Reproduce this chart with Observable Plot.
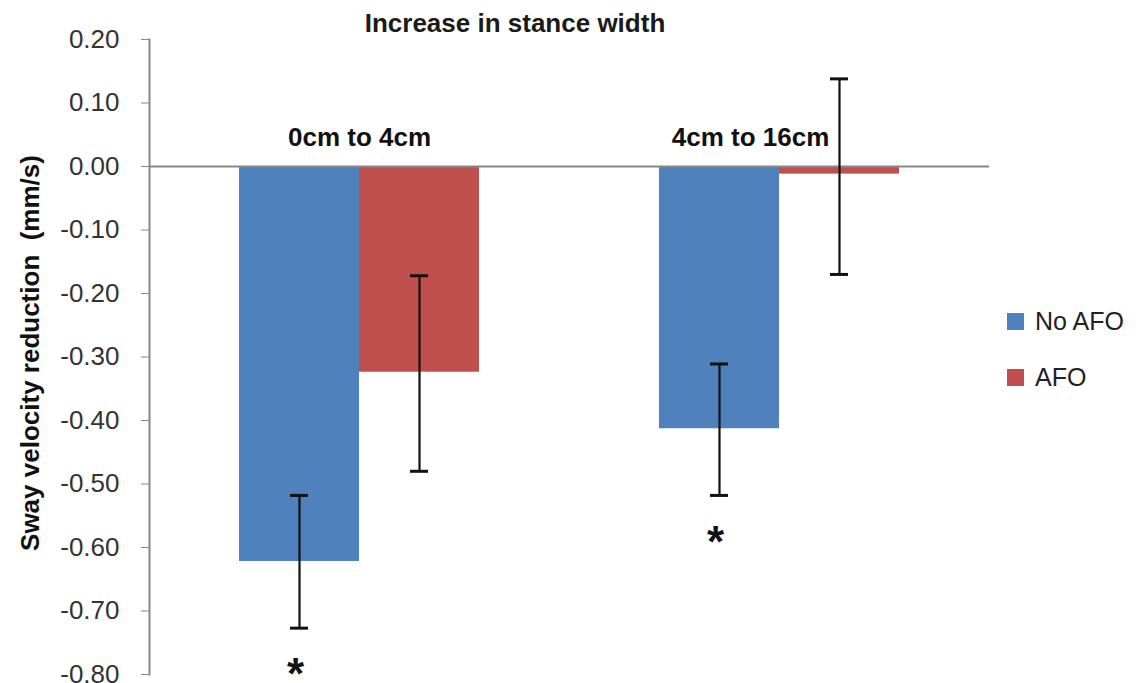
<!DOCTYPE html>
<html>
<head>
<meta charset="utf-8">
<script src="https://cdn.jsdelivr.net/npm/d3@7"></script>
<script src="https://cdn.jsdelivr.net/npm/@observablehq/plot@0.6"></script>
<style>
  html, body { margin: 0; padding: 0; background: #fff; }
  #wrap { position: relative; width: 1139px; height: 683px; font-family: "Liberation Sans", Arial, sans-serif; color: #222; }
  #wrap svg { position: absolute; left: 0; top: 0; }
  .title { position: absolute; left: 515px; top: 23px; transform: translate(-50%, -50%); font-size: 26px; font-weight: bold; white-space: nowrap; color: #1a1a1a; }
  .ylab { position: absolute; left: 30px; top: 353px; transform: translate(-50%, -50%) rotate(-90deg); font-size: 26px; font-weight: bold; white-space: pre; color: #111; }
  .leg { position: absolute; left: 1007px; display: flex; align-items: center; font-size: 25px; color: #222; white-space: nowrap; }
  .leg span.sw { display: inline-block; width: 17px; height: 17px; margin-right: 11px; }
</style>
</head>
<body>
<div id="wrap"></div>
<script>
// ---- data ----
const categories = ["0cm to 4cm", "4cm to 16cm"];
const series = ["No AFO", "AFO"];
const noAfoValues = [-0.622, -0.413];
const afoValues = [-0.324, -0.012];
const noAfoLow = [-0.727, -0.518];
const noAfoHigh = [-0.518, -0.311];
const afoLow = [-0.48, -0.17];
const afoHigh = [-0.172, 0.138];
const noAfoSignificance = ["*", "*"];
const afoSignificance = ["", ""];
const yTicks = [0.2, 0.1, 0, -0.1, -0.2, -0.3, -0.4, -0.5, -0.6, -0.7, -0.8];
const colors = ["#4F81BD", "#C0504D"];
const titleText = "Increase in stance width";
const yLabelText = "Sway velocity reduction\u00a0\u00a0(mm/s)";

const rows = [];
categories.forEach((c, i) => {
  rows.push({cat: c, series: series[0], value: noAfoValues[i], low: noAfoLow[i], high: noAfoHigh[i], sig: noAfoSignificance[i]});
  rows.push({cat: c, series: series[1], value: afoValues[i], low: afoLow[i], high: afoHigh[i], sig: afoSignificance[i]});
});

const chart = Plot.plot({
  width: 1139,
  height: 683,
  marginLeft: 148,
  marginRight: 150,
  marginTop: 39,
  marginBottom: 9,
  style: {fontFamily: "'Liberation Sans', Arial, sans-serif", fontSize: "26px", background: "transparent", color: "#333"},
  fx: {domain: categories, padding: 0, axis: null},
  x: {domain: series, paddingInner: 0, paddingOuter: 0.74, axis: null},
  y: {domain: [-0.8, 0.2]},
  color: {domain: series, range: colors},
  marks: [
    Plot.barY(rows, {fx: "cat", x: "series", y: "value", fill: "series"}),
    Plot.ruleY([0], {stroke: "#888", strokeWidth: 2}),
    Plot.frame({anchor: "left", facetAnchor: "left", stroke: "#888", strokeWidth: 2}),
    Plot.axisY({ticks: yTicks, tickFormat: d => d.toFixed(2), tickSize: 8, tickPadding: 22,
      stroke: "#888", fill: "#333", label: null, fontSize: 26}),
    Plot.ruleX(rows, {fx: "cat", x: "series", y1: "low", y2: "high", stroke: "#111", strokeWidth: 2.2}),
    Plot.tickY(rows, {fx: "cat", x: "series", y: "low", stroke: "#111", strokeWidth: 3, insetLeft: 51, insetRight: 51}),
    Plot.tickY(rows, {fx: "cat", x: "series", y: "high", stroke: "#111", strokeWidth: 3, insetLeft: 51, insetRight: 51}),
    Plot.text(rows, {fx: "cat", x: "series", y: "low", text: "sig", fontSize: 44, fontWeight: "bold", fill: "#111", dy: 47, dx: -4}),
    Plot.text([categories[0]], {fx: d => d, text: d => d, frameAnchor: "top", dy: 88, fontSize: 26, fontWeight: "bold", fill: "#111"}),
    Plot.text([categories[1]], {fx: d => d, text: d => d, frameAnchor: "top", dy: 88, dx: -29, fontSize: 26, fontWeight: "bold", fill: "#111"})
  ]
});

const wrap = document.getElementById("wrap");
wrap.appendChild(chart);

const title = document.createElement("div");
title.className = "title";
title.textContent = titleText;
wrap.appendChild(title);

const ylab = document.createElement("div");
ylab.className = "ylab";
ylab.textContent = yLabelText;
wrap.appendChild(ylab);

const legTops = [321, 377];
series.forEach((s, i) => {
  const d = document.createElement("div");
  d.className = "leg";
  d.style.top = (legTops[i] - 16) + "px";
  d.style.height = "32px";
  const sw = document.createElement("span");
  sw.className = "sw";
  sw.style.background = colors[i];
  d.appendChild(sw);
  const t = document.createElement("span");
  t.textContent = s;
  d.appendChild(t);
  wrap.appendChild(d);
});
</script>
</body>
</html>
